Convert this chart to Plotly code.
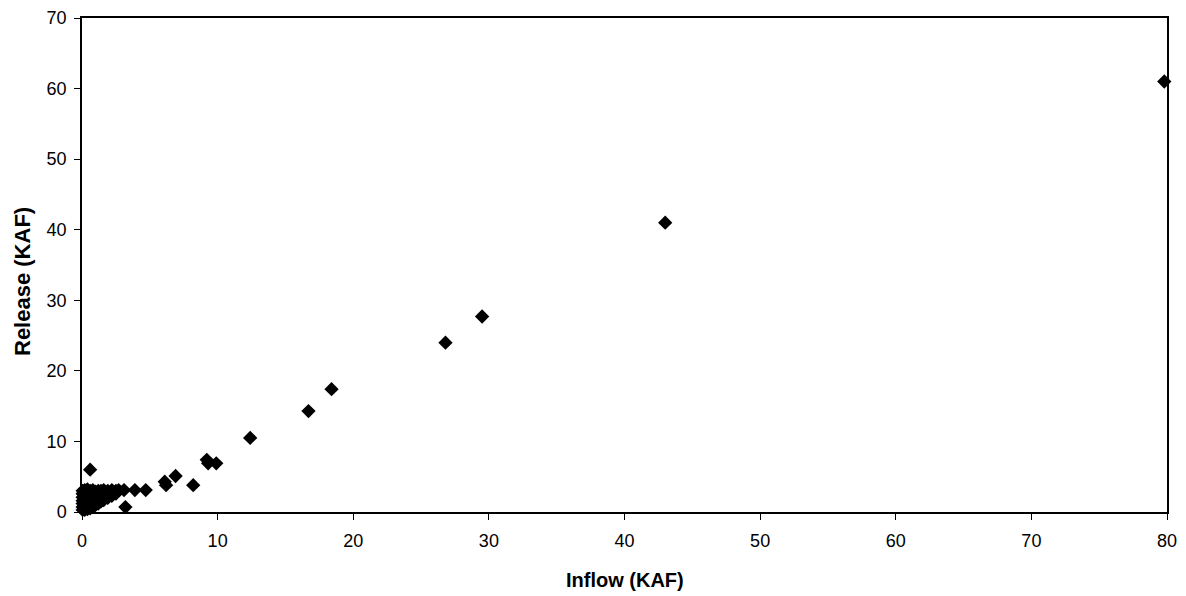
import plotly.graph_objects as go

# Inflow / Release pairs (KAF)
inflow = [
    79.8, 43.0, 29.5, 26.8, 18.4, 16.7, 12.4,
    9.2, 9.3, 9.9, 6.9, 6.1, 6.2, 8.2,
    4.7, 3.9, 3.1, 3.2, 0.6,
    0.05, 0.05, 0.05, 0.05, 0.05, 0.05, 0.05,
    0.2, 0.2, 0.2, 0.2, 0.2, 0.2,
    0.4, 0.4, 0.4, 0.4, 0.4, 0.4,
    0.6, 0.6, 0.6, 0.6, 0.6,
    0.8, 0.8, 0.8, 0.8, 0.8,
    1.0, 1.0, 1.0, 1.0,
    1.2, 1.2, 1.2, 1.2,
    1.4, 1.4, 1.4,
    1.6, 1.6, 1.6,
    1.9, 1.9, 1.9,
    2.2, 2.2,
    2.5, 2.5,
    2.7,
]
release = [
    61.0, 41.0, 27.7, 24.0, 17.4, 14.3, 10.5,
    7.4, 6.9, 6.9, 5.1, 4.3, 3.8, 3.8,
    3.1, 3.1, 3.1, 0.7, 6.0,
    0.3, 0.7, 1.2, 1.6, 2.1, 2.6, 3.0,
    0.3, 0.8, 1.3, 1.9, 2.5, 3.1,
    0.4, 1.0, 1.6, 2.2, 2.8, 3.2,
    0.5, 1.2, 1.8, 2.4, 3.0,
    0.7, 1.3, 1.9, 2.6, 3.1,
    1.0, 1.6, 2.3, 2.9,
    1.2, 1.8, 2.4, 3.0,
    1.5, 2.2, 3.0,
    1.7, 2.4, 3.1,
    2.0, 2.6, 3.0,
    2.3, 3.1,
    2.6, 3.0,
    3.1,
]

x_ticks = [0, 10, 20, 30, 40, 50, 60, 70, 80]
y_ticks = [0, 10, 20, 30, 40, 50, 60, 70]
x_title = "Inflow (KAF)"
y_title = "Release (KAF)"

font_family = "Liberation Sans, Arial, sans-serif"

fig = go.Figure()
fig.add_trace(go.Scatter(
    x=inflow, y=release, mode="markers",
    marker=dict(symbol="diamond", size=11, color="black", line=dict(width=0)),
    showlegend=False, cliponaxis=False,
))

axis_common = dict(
    showgrid=False, zeroline=False, automargin=False,
    showline=True, linecolor="black", linewidth=1.5, mirror=True,
    ticks="outside", ticklen=6, tickcolor="black", tickwidth=1,
    tickfont=dict(size=18),
)

fig.update_layout(
    width=1186, height=596,
    margin=dict(l=82, r=19, t=18, b=84),
    paper_bgcolor="white", plot_bgcolor="white",
    font=dict(family=font_family, size=18, color="black"),
    xaxis=dict(range=[0, 80], tickvals=x_ticks,
               ticktext=[str(v) for v in x_ticks], ticklabelstandoff=6,
               **axis_common),
    yaxis=dict(range=[0, 70], tickvals=y_ticks,
               ticktext=[str(v) for v in y_ticks], ticklabelstandoff=4,
               **axis_common),
    annotations=[
        dict(text="<b>%s</b>" % x_title, xref="paper", yref="paper",
             x=0.5, y=0, yshift=-68, xanchor="center", yanchor="middle",
             showarrow=False, font=dict(size=20)),
        dict(text="<b>%s</b>" % y_title, xref="paper", yref="paper",
             x=0, y=0.5, xshift=-60, yshift=-17, xanchor="center", yanchor="middle",
             textangle=-90, showarrow=False, font=dict(size=22)),
    ],
)

fig.write_html("out.html", config={"displayModeBar": False},
               post_script="document.body.style.margin='0';")
